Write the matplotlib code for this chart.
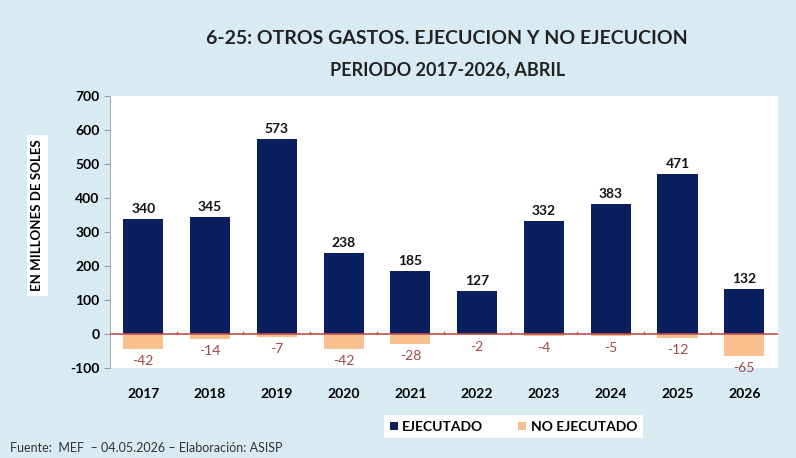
import matplotlib.pyplot as plt
import numpy as np

years = ['2017', '2018', '2019', '2020', '2021', '2022', '2023', '2024', '2025', '2026']
ejecutado = [340, 345, 573, 238, 185, 127, 332, 383, 471, 132]
no_ejecutado = [-42, -14, -7, -42, -28, -2, -4, -5, -12, -65]

navy = '#0b1f5e'
peach = '#f9c08f'
bg = '#d9ebf2'

plt.rcParams['font.family'] = ['Lato', 'DejaVu Sans']
plt.rcParams['axes.unicode_minus'] = False

fig = plt.figure(figsize=(7.96, 4.58), dpi=100, facecolor=bg)
ax = fig.add_axes([0.138, 0.196, 0.839, 0.594])
ax.set_facecolor('white')

x = np.arange(len(years))
w = 0.6
ax.bar(x, ejecutado, w, color=navy, label='EJECUTADO', zorder=2)
ax.bar(x, no_ejecutado, w, color=peach, label='NO EJECUTADO', zorder=2)

for i in range(len(years)):
    ax.text(x[i], ejecutado[i] + 12, str(ejecutado[i]), ha='center', va='bottom',
            fontsize=10, fontweight='bold', color='#111111')
    ax.text(x[i], no_ejecutado[i] - 18, str(no_ejecutado[i]), ha='center', va='top',
            fontsize=10, color='#9c4a48')

ax.axhline(0, color='#c0504d', lw=1.2, zorder=3)
for b in np.arange(0.5, len(years) - 0.5, 1.0):
    ax.plot([b, b], [0, 8], color='#c0504d', lw=1, zorder=3)

ax.set_xlim(-0.5, len(years) - 0.5)
ax.set_ylim(-100, 700)
ax.set_yticks(range(-100, 701, 100))
ax.set_xticks(x)
ax.set_xticklabels(years, fontweight='bold', fontsize=10)
ax.tick_params(axis='x', length=0, pad=14)
ax.tick_params(axis='y', labelsize=10, length=4, color='#999999')
for lab in ax.get_yticklabels():
    lab.set_fontweight('bold')
for s in ['top', 'right', 'bottom']:
    ax.spines[s].set_visible(False)
ax.spines['left'].set_color('#aaaaaa')

fig.text(0.047, 0.53, 'EN MILLONES DE SOLES', rotation=90, ha='center', va='center',
         fontsize=9.5, fontweight='bold',
         bbox=dict(boxstyle='square,pad=0.35', facecolor='white', edgecolor='none'))

fig.text(0.562, 0.915, '6-25: OTROS GASTOS. EJECUCION Y NO EJECUCION', ha='center',
         va='center', fontsize=14, fontweight='bold', color='#222222')
fig.text(0.562, 0.848, 'PERIODO 2017-2026, ABRIL', ha='center', va='center',
         fontsize=13, fontweight='bold', color='#222222')

leg = fig.legend(loc='center', bbox_to_anchor=(0.645, 0.068), ncol=2, frameon=True,
                 fancybox=False, edgecolor='none', facecolor='white', framealpha=1,
                 handlelength=0.6, handleheight=0.6, handletextpad=0.3, columnspacing=2.5,
                 prop={'weight': 'bold', 'size': 10})

fig.text(0.012, 0.022, 'Fuente:  MEF  – 04.05.2026 – Elaboración: ASISP', ha='left',
         va='center', fontsize=9, color='#333333')

fig.savefig('out.png', dpi=100, facecolor=bg)
